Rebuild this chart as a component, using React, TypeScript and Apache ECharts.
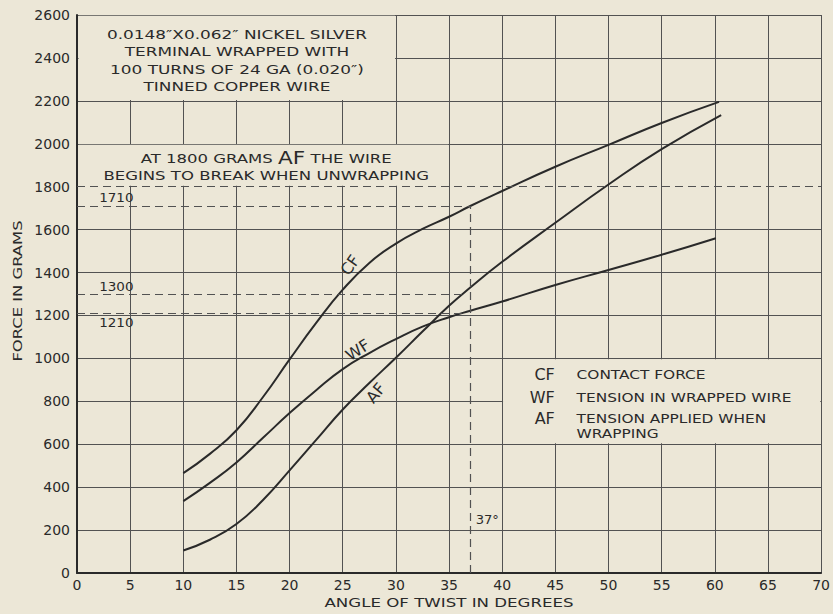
import React, { useEffect, useRef } from "react";
import * as echarts from "echarts";

// ---- data ----
const cfAngles = [10, 12.5, 15, 17.5, 20, 22.5, 25, 27.5, 30, 32.5, 35, 37, 40, 45, 50, 55, 60.4];
const cfValues = [465, 555, 665, 820, 995, 1165, 1320, 1445, 1535, 1603, 1660, 1710, 1780, 1893, 1995, 2097, 2195];

const wfAngles = [10, 12.5, 15, 17.5, 20, 22.5, 25, 27.5, 30, 32.5, 35, 37, 40, 45, 50, 55, 60.1];
const wfValues = [335, 420, 515, 630, 745, 852, 950, 1025, 1090, 1148, 1192, 1222, 1265, 1342, 1412, 1483, 1560];

const afAngles = [10, 12.5, 15, 17.5, 20, 22.5, 25, 27.5, 30, 32.5, 35, 37, 40, 45, 50, 55, 60.6];
const afValues = [105, 155, 228, 340, 478, 620, 762, 885, 1003, 1125, 1245, 1330, 1450, 1632, 1810, 1975, 2134];

const yTicks = [0, 200, 400, 600, 800, 1000, 1200, 1400, 1600, 1800, 2000, 2200, 2400, 2600];

const breakLevel = 1800;
const markAngle = 37;
const markCF = 1710;
const markAF = 1300;
const markWF = 1210;
const markAFEnd = 36.2;
const markWFEnd = 36.2;

const boxNote =
  "0.0148\u2033X0.062\u2033 NICKEL SILVER\nTERMINAL WRAPPED WITH\n100 TURNS OF 24 GA (0.020\u2033)\nTINNED COPPER WIRE";
const breakNote = "AT 1800 GRAMS {big|AF} THE WIRE\nBEGINS TO BREAK WHEN UNWRAPPING";
const legendKeys = ["CF", "WF", "AF"];
const legendTexts = ["CONTACT FORCE", "TENSION IN WRAPPED WIRE", "TENSION APPLIED WHEN", "WRAPPING"];

const paper = "#ece7d7";
const ink = "#2a2a2a";
const gridInk = "#525252";
const font = "DejaVu Sans";

const zip = (xs: number[], ys: number[]) => xs.map((x, i) => [x, ys[i]]);

export default function App() {
  const ref = useRef<HTMLDivElement>(null);
  useEffect(() => {
    if (!ref.current) return;
    const chart = echarts.init(ref.current, undefined, { renderer: "svg" });
    const yLineColors = yTicks.map((v) => (v === breakLevel ? "rgba(0,0,0,0)" : gridInk));

    const curve = (name: string, data: number[][]) => ({
      name,
      type: "line",
      data,
      smooth: 0.5,
      symbol: "none",
      z: 4,
      lineStyle: { color: ink, width: 2 },
    });

    const option: any = {
      animation: false,
      backgroundColor: paper,
      grid: { left: 77, right: 7, top: 15, bottom: 41 },
      xAxis: {
        type: "value",
        min: 0,
        max: 70,
        interval: 5,
        axisLine: { show: true, lineStyle: { color: ink, width: 2 } },
        axisTick: { show: false },
        axisLabel: { color: ink, fontFamily: font, fontSize: 14, margin: 5 },
        splitLine: { show: true, lineStyle: { color: gridInk, width: 1 } },
      },
      yAxis: {
        type: "value",
        min: 0,
        max: 2600,
        interval: 200,
        axisLine: { show: true, lineStyle: { color: ink, width: 2 } },
        axisTick: { show: false },
        axisLabel: {
          color: ink,
          fontFamily: font,
          fontSize: 14,
          margin: 7,
          formatter: (v: number) => String(v),
        },
        splitLine: { show: true, lineStyle: { color: yLineColors, width: 1 } },
      },
      series: [
        {
          type: "line",
          data: [],
          z: 1,
          markArea: {
            silent: true,
            itemStyle: { color: paper, opacity: 1, borderWidth: 0 },
            label: { show: false },
            data: [
              [{ coord: [0.15, 2204] }, { coord: [29.92, 2596] }],
              [{ coord: [0.15, 1804] }, { coord: [34.92, 1996] }],
              [{ coord: [40.08, 604] }, { coord: [69.92, 996] }],
            ],
          },
        },
        curve("CF", zip(cfAngles, cfValues)),
        curve("WF", zip(wfAngles, wfValues)),
        curve("AF", zip(afAngles, afValues)),
        {
          type: "line",
          data: [],
          z: 3,
          markLine: {
            silent: true,
            symbol: "none",
            label: { show: false },
            lineStyle: { color: gridInk, width: 1.2, type: [8, 5] },
            data: [
              [{ coord: [0, breakLevel] }, { coord: [70, breakLevel] }],
              [{ coord: [0, markCF] }, { coord: [markAngle, markCF] }],
              [{ coord: [0, markAF] }, { coord: [markAFEnd, markAF] }],
              [{ coord: [0, markWF] }, { coord: [markWFEnd, markWF] }],
              [{ coord: [markAngle, 0] }, { coord: [markAngle, markCF] }],
            ],
          },
        },
      ],
    };
    chart.setOption(option);

    const px = (x: number, y: number) => chart.convertToPixel({ gridIndex: 0 }, [x, y]) as number[];
    const txt = (
      text: string,
      p: number[],
      o: { size?: number; rot?: number; sx?: number; align?: string; lh?: number; rich?: any } = {}
    ) => ({
      type: "text",
      x: p[0],
      y: p[1],
      rotation: ((o.rot || 0) * Math.PI) / 180,
      scaleX: o.sx || 1,
      z: 10,
      style: {
        text,
        fill: ink,
        fontFamily: font,
        fontSize: o.size || 12,
        lineHeight: o.lh,
        align: o.align || "center",
        verticalAlign: "middle",
        rich: o.rich,
      },
    });

    const origin = px(0, 0);
    const mid = px(35, 1300);
    const graphic: any[] = [
      txt(boxNote, px(15.05, 2386), { size: 13, sx: 1.3, lh: 17.5 }),
      txt(breakNote, px(17.8, 1892), {
        size: 13,
        sx: 1.27,
        lh: 16.5,
        rich: { big: { fontFamily: font, fontSize: 17, fill: ink, lineHeight: 16.5 } },
      }),
      txt(legendKeys[0], px(44.95, 927), { size: 16, align: "right" }),
      txt(legendKeys[1], px(44.95, 820), { size: 16, align: "right" }),
      txt(legendKeys[2], px(44.95, 718), { size: 16, align: "right" }),
      txt(legendTexts[0], px(47.0, 922), { size: 12, sx: 1.28, align: "left" }),
      txt(legendTexts[1], px(47.0, 817), { size: 12, sx: 1.28, align: "left" }),
      txt(legendTexts[2], px(47.0, 717), { size: 12, sx: 1.28, align: "left" }),
      txt(legendTexts[3], px(47.0, 648), { size: 12, sx: 1.28, align: "left" }),
      txt("CF", px(25.7, 1435), { size: 16, rot: 55 }),
      txt("WF", px(26.4, 1039), { size: 16, rot: 33 }),
      txt("AF", px(28.1, 839), { size: 16, rot: 50 }),
      txt(String(markCF), px(3.7, 1750), { size: 12.5, sx: 1.08 }),
      txt(String(markAF), px(3.7, 1335), { size: 12.5, sx: 1.08 }),
      txt(String(markWF), px(3.7, 1165), { size: 12.5, sx: 1.08 }),
      txt(markAngle + "\u00b0", px(38.6, 248), { size: 12.5, sx: 1.05 }),
      txt("ANGLE OF TWIST IN DEGREES", [mid[0], origin[1] + 30], { size: 13, sx: 1.28 }),
      txt("FORCE IN GRAMS", [origin[0] - 60, mid[1] - 3], { size: 13, sx: 1.26, rot: 90 }),
    ];
    chart.setOption({ graphic });

    return () => chart.dispose();
  }, []);
  return (
    <div
      ref={ref}
      style={{ position: "absolute", left: 0, top: 0, width: 833, height: 614 }}
    />
  );
}
